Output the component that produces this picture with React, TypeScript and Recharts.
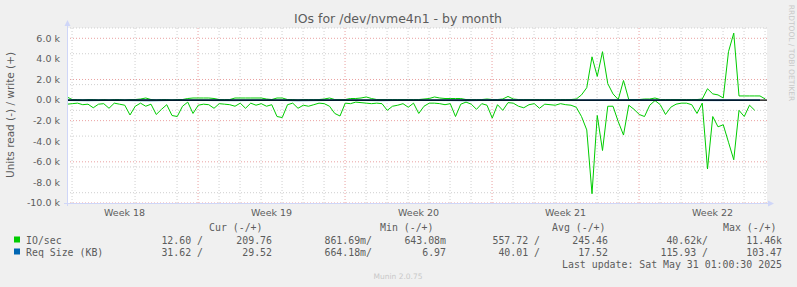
import { CartesianGrid, Line, LineChart, ReferenceLine, XAxis, YAxis } from 'recharts'

const W = 797
const H = 287
const GREEN = '#00cc00'
const BLUE = '#0066b3'
const FONT = '#5c5c5c'
const AXIS = '#cfd6f8'
const SANS = 'DejaVu Sans'
const MONO = 'DejaVu Sans Mono'

// one sample every 6h, day 0 = left edge of the graph
const STEP_DAYS = 0.25

// IO/sec read (drawn negative), in k
const READ_K: (number | null)[] = [
  0.4, 0.35, 0.3, 0.45, 0.4, 0.75, 0.4, 0.35, 0.8, 0.3,
  0.4, 0.5, 1.45, 0.6, 0.3, 0.6, 0.4, 1.4, 0.9, 0.45,
  1.5, 1.6, 0.6, 0.2, 1.3, 0.5, 0.4, 0.45, 0.8, 0.35,
  0.4, 0.45, 0.6, 0.3, 0.8, 0.3, 0.5, 0.35, 0.6, 0.45,
  1.6, 1.7, 0.45, 0.3, 0.8, 0.5, 0.6, 0.45, 0.3, 0.35,
  0.6, 1.3, 1.55, 0.3, 0.35, 0.2, 0.25, 0.3, 0.35, 0.3,
  0.35, 1.0, 0.6, 0.5, 0.35, 0.7, 0.3, 1.3, 0.6, 0.3,
  0.3, 0.35, 0.45, 0.35, 1.6, 0.4, 0.2, 0.4, 0.9, 0.35,
  0.5, 1.75, 0.45, 1.0, 0.25, 0.3, 0.6, 0.75, 0.45, 0.35,
  0.8, 0.4, 0.45, 0.5, 0.35, 0.45, 0.5, 0.7, 1.6, 2.9,
  9.1, 1.5, 4.9, 0.6, 0.6, 2.1, 3.4, 0.5, 0.9, 1.4,
  1.6, 0.5, 0.05, 0.45, 1.4, 0.7, 0.4, 0.3, 0.3, 0.45,
  1.3, 0.3, 6.7, 1.6, 2.6, 2.4, 4.1, 5.8, 1.0, 1.6,
  0.5, 1.0, null, null,
]

// IO/sec write, in k
const WRITE_K: number[] = [
  0.3, 0.05, 0.05, 0, 0.05, 0.05, 0, 0.05, 0, 0.05,
  0.05, 0, 0.05, 0.05, 0.1, 0.2, 0.05, 0, 0.05, 0.05,
  0, 0.05, 0.05, 0.15, 0.2, 0.2, 0.2, 0.2, 0.15, 0.05,
  0.05, 0.05, 0.2, 0.2, 0.2, 0.2, 0.2, 0.2, 0.1, 0.05,
  0.2, 0.2, 0.05, 0.05, 0, 0.05, 0.05, 0.05, 0.05, 0.1,
  0.2, 0.05, 0.05, 0.05, 0.15, 0.15, 0.2, 0.3, 0.15, 0.05,
  0.05, 0.05, 0.05, 0.05, 0.05, 0.05, 0.05, 0.05, 0.1, 0.15,
  0.3, 0.2, 0.15, 0.15, 0.15, 0.15, 0.05, 0.05, 0.05, 0.05,
  0.1, 0.05, 0.05, 0.1, 0.35, 0.1, 0.05, 0.05, 0.05, 0.05,
  0.05, 0.05, 0.05, 0.05, 0.05, 0.05, 0.05, 0.1, 0.5, 1.2,
  4.2, 2.3, 4.7, 1.6, 0.6, 0.05, 1.9, 0.05, 0.05, 0.05,
  0.1, 0.1, 0.2, 0.05, 0.05, 0.05, 0.05, 0.05, 0.05, 0.05,
  0.05, 0.1, 1.1, 0.6, 0.5, 0.2, 4.7, 6.5, 0.4, 0.4,
  0.4, 0.4, 0.4, 0.1,
]

// Req Size (KB), one value per day
const REQ_READ_KB = [
  45, 60, 38, 52, 70, 40, 35, 48, 55, 42, 30, 66, 50, 38, 44, 58, 36,
  40, 47, 62, 35, 31, 28, 30, 34, 42, 38, 45, 40, 36, 48, 52, 39, 41,
]
const REQ_WRITE_KB = [
  18, 22, 15, 20, 25, 17, 14, 19, 16, 21, 13, 17, 23, 18, 15, 20, 16,
  14, 18, 22, 26, 30, 15, 12, 14, 17, 20, 35, 16, 14, 19, 21, 17, 18,
]

const WEEK_LABELS = ['Week 18', 'Week 19', 'Week 20', 'Week 21', 'Week 22']
const WEEK_STARTS = [6.24, 13.24, 20.24, 27.24]
const WEEK_CENTERS = [WEEK_STARTS[0] - 3.5, ...WEEK_STARTS.map((d) => d + 3.5)]
const Y_TICKS = [-10, -8, -6, -4, -2, 0, 2, 4, 6]
const X_MAX = 100 / 3

const MINOR_Y: number[] = []
for (let v = -10; v <= 7; v += 0.5) if (v % 2 !== 0) MINOR_Y.push(v)
const MINOR_X: number[] = []
for (let d = 0.24; d < X_MAX; d += 1) if (!WEEK_STARTS.some((w) => Math.abs(w - d) < 0.01)) MINOR_X.push(d)

const rows = WRITE_K.map((w, i) => {
  const r = READ_K[i]
  const day = i % 4 === 0 ? i / 4 : -1
  return {
    day: i * STEP_DAYS,
    read: r == null ? null : -r,
    write: w,
    reqRead: day >= 0 && REQ_READ_KB[day] != null ? -REQ_READ_KB[day] / 1000 : null,
    reqWrite: day >= 0 && REQ_WRITE_KB[day] != null ? REQ_WRITE_KB[day] / 1000 : null,
  }
})

const LEGEND_ROWS = [
  { label: 'IO/sec', color: GREEN, vals: ['12.60 /', '209.76', '861.69m/', '643.08m', '557.72 /', '245.46', '40.62k/', '11.46k'] },
  { label: 'Req Size (KB)', color: BLUE, vals: ['31.62 /', '29.52', '664.18m/', '6.97', '40.01 /', '17.52', '115.93 /', '103.47'] },
]
const COL_ENDS = [203, 272, 372, 446, 540, 608, 708, 782]
const HEADERS = [
  { text: 'Cur (-/+)', x: 209 },
  { text: 'Min (-/+)', x: 380 },
  { text: 'Avg (-/+)', x: 552 },
  { text: 'Max (-/+)', x: 723 },
]

export default function App() {
  return (
    <div style={{ position: 'relative', width: W, height: H, background: '#f0f0f0' }}>
      <style>{'body{margin:0}'}</style>
      <LineChart width={W} height={H} data={rows} margin={{ top: 28, right: 30, bottom: 0, left: 7 }}>
        <CartesianGrid
          fill="#ffffff"
          stroke="#cfcfcf"
          strokeDasharray="1 2"
          horizontalValues={MINOR_Y}
          verticalValues={MINOR_X}
        />
        <CartesianGrid
          stroke="#eaa0a0"
          strokeDasharray="1 2"
          horizontalValues={Y_TICKS}
          verticalValues={WEEK_STARTS}
        />
        <XAxis
          type="number"
          dataKey="day"
          domain={[0, X_MAX]}
          ticks={WEEK_CENTERS}
          tickFormatter={(_v, i) => WEEK_LABELS[i]}
          tick={{ fill: FONT, fontSize: 9.5, fontFamily: SANS }}
          tickSize={4}
          tickLine={false}
          axisLine={false}
          height={84}
          allowDataOverflow
        />
        <YAxis
          domain={[-10, 7]}
          ticks={Y_TICKS}
          tickFormatter={(v: number) => `${v.toFixed(1)} k`}
          tick={{ fill: FONT, fontSize: 9.5, fontFamily: SANS }}
          tickSize={0}
          tickMargin={7}
          axisLine={false}
          width={60}
          allowDataOverflow
        />
        <Line type="linear" dataKey="read" stroke={GREEN} strokeWidth={1} dot={false} isAnimationActive={false} />
        <Line type="linear" dataKey="write" stroke={GREEN} strokeWidth={1} dot={false} isAnimationActive={false} />
        <Line type="linear" dataKey="reqRead" stroke={BLUE} strokeWidth={1} dot={false} connectNulls isAnimationActive={false} />
        <Line type="linear" dataKey="reqWrite" stroke={BLUE} strokeWidth={1} dot={false} connectNulls isAnimationActive={false} />
        <ReferenceLine y={0} stroke="#000000" strokeWidth={1.2} />
      </LineChart>

      <svg width={W} height={H} style={{ position: 'absolute', left: 0, top: 0, pointerEvents: 'none' }}>
        <text x={398} y={23} textAnchor="middle" fontFamily={SANS} fontSize={12.5} fill={FONT}>
          IOs for /dev/nvme4n1 - by month
        </text>
        <text
          x={10}
          y={115}
          transform="rotate(-90 10 115)"
          textAnchor="middle"
          dominantBaseline="central"
          fontFamily={SANS}
          fontSize={10.5}
          fill={FONT}
        >
          Units read (-) / write (+)
        </text>
        <text
          x={791}
          y={53}
          transform="rotate(90 791 53)"
          textAnchor="middle"
          dominantBaseline="central"
          fontFamily={SANS}
          fontSize={7.5}
          fill="#c8c8c8"
        >
          RRDTOOL / TOBI OETIKER
        </text>

        {/* axes with arrows */}
        <line x1={67.5} y1={206} x2={67.5} y2={24} stroke={AXIS} />
        <polygon points="64.5,26 70.5,26 67.5,20" fill={AXIS} />
        <line x1={64} y1={203.5} x2={770} y2={203.5} stroke={AXIS} />
        <polygon points="768,200.5 768,206.5 774,203.5" fill={AXIS} />

        {HEADERS.map((h) => (
          <text key={h.text} x={h.x} y={231} fontFamily={MONO} fontSize={9.9} fill={FONT}>
            {h.text}
          </text>
        ))}
        {LEGEND_ROWS.map((r, ri) => {
          const base = 244 + ri * 12
          return (
            <g key={r.label}>
              <rect x={14} y={base - 7.5} width={6} height={6} fill={r.color} />
              <text x={26} y={base} fontFamily={MONO} fontSize={9.9} fill={FONT}>
                {r.label}
              </text>
              {r.vals.map((v, i) => (
                <text key={i} x={COL_ENDS[i]} y={base} textAnchor="end" fontFamily={MONO} fontSize={9.9} fill={FONT} xmlSpace="preserve">
                  {v}
                </text>
              ))}
            </g>
          )
        })}
        <text x={782} y={268} textAnchor="end" fontFamily={MONO} fontSize={9.9} fill={FONT}>
          Last update: Sat May 31 01:00:30 2025
        </text>
        <text x={398} y={279} textAnchor="middle" fontFamily={SANS} fontSize={7.5} fill="#c8c8c8">
          Munin 2.0.75
        </text>
      </svg>
    </div>
  )
}
